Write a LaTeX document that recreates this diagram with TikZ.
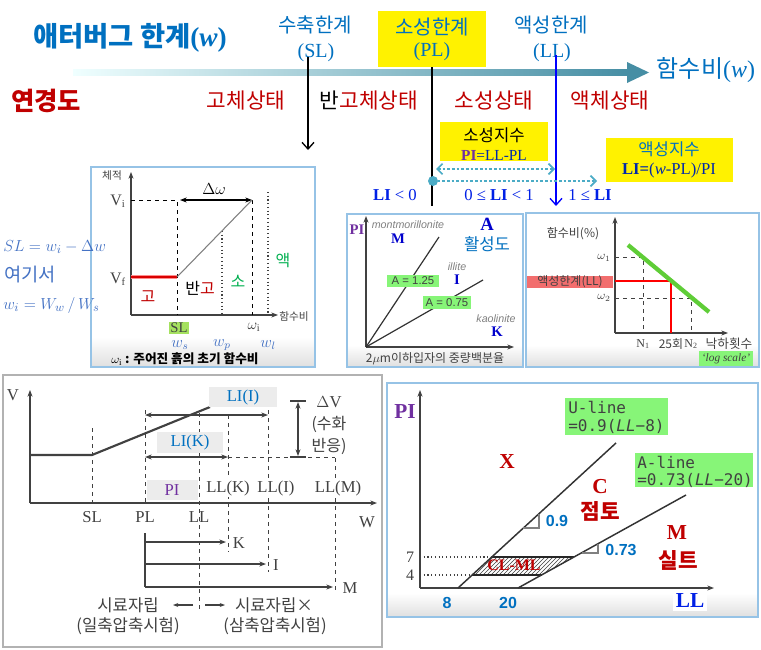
\documentclass[tikz,border=0pt]{standalone}
\usepackage{fontspec}
\setmainfont{Liberation Serif}
\setsansfont{Liberation Sans}
\setmonofont{DejaVu Sans Mono}
\newfontfamily\kr{Noto Sans CJK KR}
\usetikzlibrary{positioning, arrows.meta, calc, patterns}
\usepackage{xcolor}
\definecolor{atblue}{RGB}{0,112,192}
\definecolor{atred}{RGB}{192,0,0}
\definecolor{atpurple}{RGB}{112,48,160}
\definecolor{atnavy}{RGB}{0,40,170}
\definecolor{liblue}{RGB}{0,32,230}
\definecolor{atsea}{RGB}{70,142,164}
\definecolor{atteal}{RGB}{75,172,198}
\definecolor{hlgreen}{RGB}{135,245,120}
\definecolor{slgreen}{RGB}{165,225,95}
\definecolor{txgreen}{RGB}{0,176,80}
\definecolor{mathblue}{RGB}{68,114,196}
\definecolor{ink}{RGB}{65,65,65}
\definecolor{paneledge}{RGB}{150,195,230}
\definecolor{llred}{RGB}{242,110,110}
\definecolor{boxgray}{RGB}{236,236,236}
\definecolor{dropgreen}{RGB}{95,205,55}
\newcommand{\fsz}[1]{\fontsize{#1}{#1}\selectfont}

\begin{document}
\begin{tikzpicture}[x=0.75pt, y=-0.75pt, inner sep=0pt, font=\kr\fsz{12},
  panel/.style={draw=paneledge, line width=0.9pt},
  band/.style={top color=white, bottom color=black!12},
  tag/.style={fill=hlgreen, inner sep=1.5pt},
  guide/.style={dashed, ink, line width=0.7pt},
  hint/.style={dotted, ink, line width=0.8pt},
  dimarrow/.style={{Stealth[length=5pt]}-{Stealth[length=5pt]}, ink, line width=0.8pt},
  barb/.style={-{Straight Barb[length=5pt,width=9pt]}, line width=1pt},
  chev/.style={atteal, line width=1.2pt, dash pattern=on 2pt off 1.5pt}]
  \useasboundingbox (0,0) rectangle (761,650);
  \fill[white] (0,0) rectangle (761,650);

  % water content axis and the three limits
  \shade[left color=cyan!6!white, right color=atsea] (73,69.5) rectangle (629,75.5);
  \fill[atsea] (627,62) -- (649,72.5) -- (627,83) -- cycle;
  \node[text=atblue, font=\kr\fsz{18}] (wAxis) at (706,70) {함수비{\rmfamily(\textit{w})}};
  \node[text=atblue, font=\kr\bfseries\fsz{20.5}] (title) at (130,38) {애터버그 한계{\rmfamily\bfseries(\textit{w})}};
  \fill[yellow] (378,11) rectangle (486,67);
  \node[text=atblue, font=\kr\fsz{15}] (slName) at (315,25) {수축한계};
  \node[text=atblue, font=\fsz{15}] (slAbbr) at (316,53) {(SL)};
  \node[text=atblue, font=\kr\fsz{15}] (plName) at (432,27) {소성한계};
  \node[text=atblue, font=\fsz{15}] (plAbbr) at (432,52) {(PL)};
  \node[text=atblue, font=\kr\fsz{15}] (llName) at (551,25) {액성한계};
  \node[text=atblue, font=\fsz{15}] (llAbbr) at (552,53) {(LL)};
  \draw[barb] (308,57) -- (308,150);
  \draw[line width=1pt] (432,67) -- (432,206);
  \draw[barb, blue] (556,55) -- (556,206);

  \node[text=atred, font=\kr\bfseries\fsz{19}] (consist) at (46,101) {연경도};
  \node[text=atred, font=\kr\fsz{16}] (solid) at (246,101) {고체상태};
  \node[text=atred, font=\kr\fsz{16}] (semi) at (369,101) {\textcolor{black}{반}고체상태};
  \node[text=atred, font=\kr\fsz{16}] (plastic) at (494,101) {소성상태};
  \node[text=atred, font=\kr\fsz{16}] (liquid) at (610,101) {액체상태};

  % plasticity and liquidity index
  \fill[yellow] (440,122) rectangle (548,161);
  \node[font=\kr\fsz{12.5}] (piName) at (494,135) {소성지수};
  \node[text=atnavy, font=\fsz{11.5}] (piDef) at (494,155) {\textcolor{atpurple}{\textbf{PI}}=LL-PL};
  \fill[yellow] (606,138) rectangle (733,182);
  \node[text=atblue, font=\kr\fsz{12.5}] (liName) at (669,149) {액성지수};
  \node[text=atnavy, font=\fsz{12.5}] (liDef) at (669,170) {\textbf{LI=}(\textit{w}-PL)/PI};
  \draw[chev, {Straight Barb[length=4pt,width=8pt]}-{Straight Barb[length=4pt,width=8pt]}] (436,169) -- (555,169);
  \draw[chev, -{Straight Barb[length=4pt,width=8pt]}] (433,181) -- (597,181);
  \fill[atteal] (433,181) circle (5);
  \node[text=liblue, font=\fsz{12.5}] (liLow) at (395,195) {\textbf{LI} < 0};
  \node[text=liblue, font=\fsz{12.5}] (liMid) at (499,195) {0 ≤ \textbf{LI} < 1};
  \node[text=liblue, font=\fsz{12.5}] (liHigh) at (590,195) {1 ≤ \textbf{LI}};

  % shrinkage limit panel
  \fill[white] (91,167) rectangle (315,367);
  \shade[band] (92,337) rectangle (314,366);
  \draw[panel] (91,167) rectangle (315,367);
  \draw[ink, line width=0.8pt, -{Stealth[length=5pt]}] (131,315) -- (131,172);
  \draw[ink, line width=0.8pt, -{Stealth[length=5pt]}] (131,315) -- (278,315);
  \node[text=ink, font=\kr\fsz{8}] (volume) at (112,176) {체적};
  \node[text=ink, font=\kr\fsz{8}] (wcA) at (294,316) {함수비};
  \node[text=ink, font=\fsz{12}] (vi) at (118,201) {V\textsubscript{i}};
  \node[text=ink, font=\fsz{12}] (vf) at (118,279) {V\textsubscript{f}};
  \draw[guide, black] (131,200) -- (177,200) -- (177,315);
  \draw[guide, black] (252,200) -- (252,315);
  \draw[hint] (222,231) -- (222,315);
  \draw[hint] (268,192) -- (268,315);
  \draw[black, line width=1.1pt, {Stealth[length=5pt]}-{Stealth[length=5pt]}] (180,200) -- (252,200);
  \node[font=\fsz{12}] (dw) at (214,189) {$\Delta\omega$};
  \draw[red!45, line width=3.5pt] (131,277) -- (177,277);
  \draw[red!85!black, line width=1.4pt] (131,277) -- (177,277);
  \draw[gray, line width=0.8pt] (177,277) -- (252,200);
  \node[text=atred, font=\kr\fsz{12}] (solidA) at (148,297) {고};
  \node[text=atred, font=\kr\fsz{12}] (semiA) at (200,288) {\textcolor{black}{반}고};
  \node[text=txgreen, font=\kr\fsz{12}] (plasticA) at (238,281) {소};
  \node[text=txgreen, font=\kr\fsz{12}] (liquidA) at (283,261) {액};
  \node[fill=slgreen, inner sep=0.8pt, text=ink, font=\fsz{11}] (slTag) at (179,328) {SL};
  \node[text=ink, font=\fsz{11}] (wi) at (254,327) {$\omega_{\mathrm{i}}$};
  \node[text=mathblue, font=\fsz{11.5}] (ws) at (180,345) {$w_s$};
  \node[text=mathblue, font=\fsz{11.5}] (wp) at (222,345) {$w_p$};
  \node[text=mathblue, font=\fsz{11.5}] (wl) at (268,345) {$w_l$};
  \node[font=\kr\bfseries\fsz{9.5}] (wiNote) at (185,359) {$\omega_{\mathrm{i}}$ : 주어진 흙의 초기 함수비};
  \node[text=mathblue, font=\fsz{13}, anchor=west] (slEq) at (3,247) {$SL = w_i - \Delta w$};
  \node[text=mathblue, font=\kr\fsz{14}, anchor=west] (where) at (4,275) {여기서};
  \node[text=mathblue, font=\fsz{13}, anchor=west] (wiEq) at (3,305) {$w_i = W_w\,/\,W_s$};

  % activity panel
  \fill[white] (347,214) rectangle (523,367);
  \shade[band] (348,345) rectangle (522,366);
  \draw[panel] (347,214) rectangle (523,367);
  \draw[ink, line width=0.8pt, -{Stealth[length=5pt]}] (366,347) -- (366,216);
  \draw[ink, line width=0.8pt, -{Stealth[length=5pt]}] (366,347) -- (514,347);
  \draw[black!80, line width=0.9pt] (366,347) -- (439,237);
  \draw[black!80, line width=0.9pt] (366,347) -- (483,280);
  \node[text=atpurple, font=\fsz{11}\bfseries] (piA) at (357,230) {PI};
  \node[text=gray, font=\sffamily\itshape\fsz{8}] (mont) at (408,225) {montmorillonite};
  \node[text=blue!80!black, font=\fsz{11}\bfseries] (mA) at (398,239) {M};
  \node[text=blue!80!black, font=\fsz{14}\bfseries] (actA) at (487,224) {A};
  \node[text=atblue, font=\kr\fsz{12.5}] (activity) at (487,244) {활성도};
  \node[text=gray, font=\sffamily\itshape\fsz{8}] (illite) at (457,267) {illite};
  \node[text=blue!80!black, font=\fsz{11}\bfseries] (iA) at (457,280) {I};
  \node[text=gray, font=\sffamily\itshape\fsz{8}] (kaol) at (496,319) {kaolinite};
  \node[text=blue!80!black, font=\fsz{11}\bfseries] (kA) at (497,332) {K};
  \node[tag, text=ink, font=\sffamily\fsz{8.5}, minimum width=39pt, minimum height=9pt] (aHigh) at (413,281) {A = 1.25};
  \node[tag, text=ink, font=\sffamily\fsz{8.5}, minimum width=36pt, minimum height=9pt] (aLow) at (447,302.5) {A = 0.75};
  \node[text=ink, font=\kr\fsz{9}] (clay2) at (435,359) {2$\mu$m이하입자의 중량백분율};

  % liquid limit panel
  \fill[white] (526,213) rectangle (759,367);
  \shade[band] (527,345) rectangle (758,366);
  \draw[panel] (526,213) rectangle (759,367);
  \draw[ink, line width=0.8pt, -{Stealth[length=5pt]}] (615,333) -- (615,217);
  \draw[ink, line width=0.8pt, -{Stealth[length=5pt]}] (615,333) -- (728,333);
  \draw[guide] (615,257) -- (643,257) -- (643,333);
  \draw[guide] (615,298) -- (691,298) -- (691,333);
  \draw[red, line width=1.5pt] (615,281) -- (671,281) -- (671,333);
  \draw[dropgreen, line width=3.2pt] (628,245) -- (709,312);
  \node[text=ink, font=\kr\fsz{9}] (wcB) at (573,234) {함수비(\%)};
  \node[text=ink, font=\fsz{9}] (w1) at (604,258) {$\omega_1$};
  \node[text=ink, font=\fsz{9}] (w2) at (604,298) {$\omega_2$};
  \node[fill=llred, text=ink, font=\kr\fsz{9}, minimum width=64pt, minimum height=9pt] (llTag) at (570,282) {액성한계(LL)};
  \node[text=ink, font=\fsz{9}] (n1) at (643,344) {N\textsubscript{1}};
  \node[text=ink, font=\kr\fsz{9}] (n25) at (671,344) {25회};
  \node[text=ink, font=\fsz{9}] (n2) at (691,344) {N\textsubscript{2}};
  \node[text=ink, font=\kr\fsz{9.5}] (blows) at (729,344) {낙하횟수};
  \node[tag, text=ink, font=\itshape\fsz{8.5}, minimum width=40pt, minimum height=9pt] (logTag) at (726,358.5) {`log scale'};

  % volume change panel
  \draw[black!30, line width=0.9pt] (3,375) rectangle (382,647);
  \draw[ink, line width=0.8pt, -{Stealth[length=5pt]}] (30,503) -- (30,390);
  \draw[ink, line width=0.8pt, -{Stealth[length=5pt]}] (30,503) -- (377,503);
  \draw[ink, line width=1.6pt] (30,455) -- (92,455) -- (210,407);
  \draw[guide] (92,428) -- (92,503);
  \draw[guide] (145,410) -- (145,503);
  \draw[ink, line width=0.8pt] (145,533) -- (145,587);
  \draw[guide] (199,413) -- (199,610);
  \draw[guide] (228,415) -- (228,552);
  \draw[guide] (268,410) -- (268,572);
  \draw[guide] (335,458) -- (335,590);
  \draw[guide] (228,457) -- (335,457);
  \draw[dimarrow] (145,415) -- (268,415);
  \draw[dimarrow] (145,457) -- (228,457);
  \fill[boxgray] (209,387) rectangle (277,407);
  \node[text=atblue, font=\fsz{12.5}] (liI) at (243,397) {LI(I)};
  \fill[boxgray] (157,432) rectangle (223,453);
  \node[text=atblue, font=\fsz{12.5}] (liK) at (190,442) {LI(K)};
  \fill[boxgray] (147,480) rectangle (198,500);
  \node[text=atpurple, font=\fsz{12.5}] (piB) at (172,490) {PI};
  \draw[dimarrow] (298,402) -- (298,456);
  \draw[ink, line width=0.8pt] (290,401) -- (306,401);
  \draw[ink, line width=0.8pt] (290,457) -- (306,457);
  \node[text=ink, font=\fsz{12.5}] (dv) at (329,402) {$\Delta$V};
  \node[text=ink, font=\kr\fsz{12}] (hydra) at (329,424) {(수화};
  \node[text=ink, font=\kr\fsz{12}] (react) at (329,446) {반응)};
  \node[fill=white, inner sep=1pt, text=ink, font=\fsz{12.5}] (llK) at (228,488) {LL(K)};
  \node[fill=white, inner sep=1pt, text=ink, font=\fsz{12.5}] (llI) at (276,488) {LL(I)};
  \node[fill=white, inner sep=1pt, text=ink, font=\fsz{12.5}] (llM) at (338,488) {LL(M)};
  \node[text=ink, font=\fsz{12.5}] (vAx) at (13,395) {V};
  \node[text=ink, font=\fsz{12.5}] (wAx) at (367,522) {W};
  \node[text=ink, font=\fsz{12.5}] (slB) at (92,517) {SL};
  \node[text=ink, font=\fsz{12.5}] (plB) at (145,517) {PL};
  \node[text=ink, font=\fsz{12.5}] (llB) at (199,517) {LL};
  \draw[ink, line width=0.8pt, -{Stealth[length=5pt]}] (145,542) -- (226,542);
  \draw[ink, line width=0.8pt, -{Stealth[length=5pt]}] (145,564) -- (266,564);
  \draw[ink, line width=0.8pt, -{Stealth[length=5pt]}] (145,587) -- (333,587);
  \node[text=ink, font=\fsz{12.5}] (kB) at (239,543) {K};
  \node[text=ink, font=\fsz{12.5}] (iB) at (276,565) {I};
  \node[text=ink, font=\fsz{12.5}] (mB) at (350,588) {M};
  \draw[ink, line width=0.8pt, -{Stealth[length=4pt]}] (193,605) -- (173,605);
  \draw[ink, line width=0.8pt, -{Stealth[length=4pt]}] (205,605) -- (225,605);
  \node[text=ink, font=\kr\fsz{12.5}] (standA) at (128,605) {시료자립};
  \node[text=ink, font=\kr\fsz{12.5}] (testA) at (128,626) {(일축압축시험)};
  \node[text=ink, font=\kr\fsz{12.5}] (standB) at (274,605) {시료자립×};
  \node[text=ink, font=\kr\fsz{12.5}] (testB) at (275,626) {(삼축압축시험)};

  % plasticity chart panel
  \fill[white] (387,383) rectangle (758,617);
  \shade[band] (388,593) rectangle (757,616);
  \draw[panel] (387,383) rectangle (758,617);
  \draw[ink, line width=0.8pt, -{Stealth[length=5pt]}] (420,588) -- (420,390);
  \draw[ink, line width=0.8pt, -{Stealth[length=5pt]}] (420,588) -- (714,588);
  \fill[pattern=north east lines, pattern color=ink] (472,575) -- (541.5,575) -- (574,557) -- (492,557) -- cycle;
  \draw[black!85, line width=1pt] (472,575) -- (541.5,575);
  \draw[black!85, line width=1pt] (492,557) -- (574,557);
  \draw[hint] (420,557) -- (492,557);
  \draw[hint] (420,575) -- (472,575);
  \draw[black!80, line width=1.1pt] (458,588) -- (616,443);
  \draw[black!80, line width=1.1pt] (518,588) -- (686,495);
  \draw[gray, line width=1pt] (523,528) -- (539,528) -- (539,514);
  \draw[gray, line width=1pt] (582,553) -- (598,553) -- (598,544);
  \node[text=atblue, font=\sffamily\bfseries\fsz{12}] (sU) at (557,521) {0.9};
  \node[text=atblue, font=\sffamily\bfseries\fsz{12}] (sA) at (621,550) {0.73};
  \node[text=ink, font=\fsz{12}] (pi7) at (410,557) {7};
  \node[text=ink, font=\fsz{12}] (pi4) at (410,575) {4};
  \node[text=atblue, font=\sffamily\bfseries\fsz{12}] (ll8) at (447,603) {8};
  \node[text=atblue, font=\sffamily\bfseries\fsz{12}] (ll20) at (508,603) {20};
  \node[text=atred, font=\bfseries\fsz{12}] (clml) at (514,565) {CL-ML};
  \node[text=atred, font=\bfseries\fsz{16}] (xArea) at (507,462) {X};
  \node[text=atred, font=\bfseries\fsz{16}] (cArea) at (600,487) {C};
  \node[text=atred, font=\kr\bfseries\fsz{16}] (clay) at (600,511) {점토};
  \node[text=atred, font=\bfseries\fsz{16}] (mArea) at (677,533) {M};
  \node[text=atred, font=\kr\bfseries\fsz{16}] (silt) at (678,560) {실트};
  \node[fill=white, inner sep=2pt, text=atpurple, font=\bfseries\fsz{16}] (piC) at (405,412) {PI};
  \node[fill=white, inner sep=2pt, text=liblue, font=\bfseries\fsz{16}] (llC) at (690,601) {LL};
  \fill[hlgreen] (565,398) rectangle (668,435);
  \node[text=ink, font=\ttfamily\fsz{12}, anchor=west] (uName) at (568,407) {U-line};
  \node[text=ink, font=\ttfamily\fsz{12}, anchor=west] (uEq) at (568,426) {=0.9(\textit{LL}−8)};
  \fill[hlgreen] (635,453) rectangle (753,487);
  \node[text=ink, font=\ttfamily\fsz{12}, anchor=west] (aName) at (637,462) {A-line};
  \node[text=ink, font=\ttfamily\fsz{12}, anchor=west] (aEq) at (637,480) {=0.73(\textit{LL}−20)};
\end{tikzpicture}
\end{document}
